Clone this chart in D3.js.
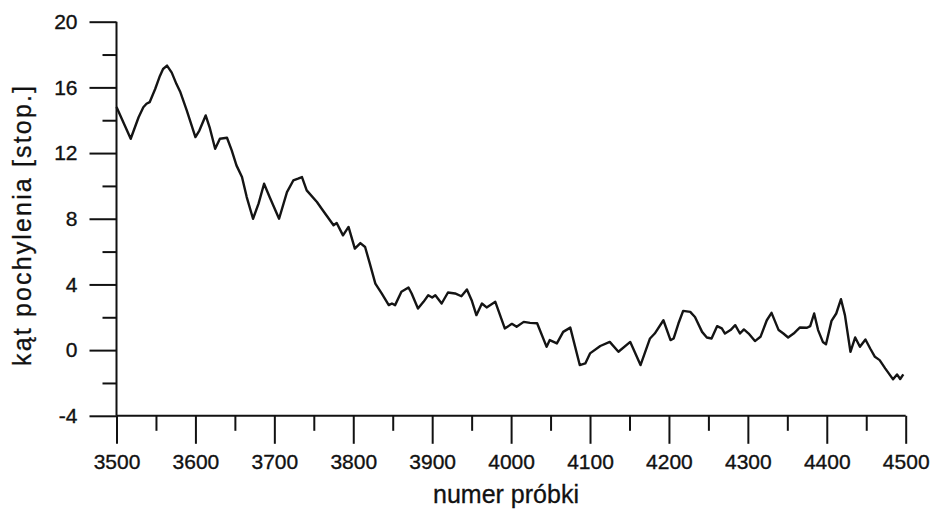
<!DOCTYPE html>
<html>
<head>
<meta charset="utf-8">
<script src="https://cdn.jsdelivr.net/npm/d3@7"></script>
<style>
  html, body { margin: 0; padding: 0; background: #fff; }
  svg { display: block; }
  text { font-family: "Liberation Sans", Arial, sans-serif; fill: #111; }
</style>
</head>
<body>
<svg id="chart" width="934" height="509"></svg>
<script>
// Sample numbers along the record
const sampleNo = [
  3500, 3518, 3528, 3534, 3538, 3542, 3549, 3555, 3559, 3564,
  3570, 3576, 3581, 3589, 3600, 3605, 3613, 3618, 3625, 3631,
  3640, 3646, 3652, 3659, 3665, 3673, 3680, 3687, 3694, 3706,
  3716, 3724, 3730, 3735, 3741, 3754, 3760, 3775, 3779, 3787,
  3794, 3802, 3809, 3815, 3821, 3828, 3836, 3845, 3849, 3853,
  3861, 3870, 3874, 3882, 3889, 3895, 3900, 3904, 3912, 3920,
  3929, 3937, 3944, 3950, 3956, 3963, 3969, 3980, 3992, 4001,
  4007, 4016, 4024, 4033, 4045, 4049, 4058, 4066, 4075, 4087,
  4094, 4100, 4113, 4125, 4136, 4151, 4164, 4176, 4182, 4193,
  4202, 4206, 4212, 4218, 4227, 4233, 4242, 4248, 4254, 4261,
  4267, 4271, 4278, 4284, 4290, 4295, 4301, 4309, 4316, 4324,
  4330, 4339, 4345, 4351, 4358, 4366, 4375, 4379, 4384, 4389,
  4395, 4399, 4406, 4412, 4418, 4423, 4430, 4436, 4442, 4449,
  4455, 4461, 4467, 4474, 4484, 4489, 4493, 4497
];
// Tilt angle in degrees at each sample
const tiltAngle = [
  14.8, 12.87, 14.18, 14.79, 15.0, 15.1, 15.9, 16.7, 17.12, 17.33,
  16.9, 16.2, 15.7, 14.6, 12.97, 13.37, 14.29, 13.57, 12.26, 12.87,
  12.93, 12.16, 11.25, 10.54, 9.32, 8.0, 8.92, 10.13, 9.32, 8.0,
  9.62, 10.33, 10.44, 10.54, 9.73, 9.02, 8.61, 7.6, 7.74, 6.99,
  7.5, 6.18, 6.52, 6.28, 5.27, 4.05, 3.45, 2.74, 2.84, 2.74,
  3.55, 3.81, 3.45, 2.53, 2.94, 3.34, 3.2, 3.34, 2.84, 3.51,
  3.45, 3.28, 3.69, 3.04, 2.13, 2.84, 2.6, 2.94, 1.32, 1.6,
  1.42, 1.72, 1.66, 1.64, 0.2, 0.61, 0.41, 1.11, 1.37, -0.91,
  -0.81, -0.2, 0.25, 0.5, -0.1, 0.5, -0.91, 0.71, 1.01, 1.82,
  0.61, 0.71, 1.62, 2.39, 2.33, 2.02, 1.11, 0.77, 0.71, 1.46,
  1.32, 1.01, 1.22, 1.52, 1.01, 1.26, 1.01, 0.55, 0.81, 1.82,
  2.27, 1.22, 1.01, 0.77, 1.01, 1.38, 1.36, 1.46, 2.23, 1.22,
  0.5, 0.36, 1.78, 2.23, 3.1, 2.13, -0.1, 0.77, 0.2, 0.65,
  0.1, -0.41, -0.61, -1.11, -1.78, -1.48, -1.76, -1.48
];

const xMajorTicks = [3500, 3600, 3700, 3800, 3900, 4000, 4100, 4200, 4300, 4400, 4500];
const xMinorTicks = [3550, 3650, 3750, 3850, 3950, 4050, 4150, 4250, 4350, 4450];
const yMajorTicks = [-4, 0, 4, 8, 12, 16, 20];
const yMinorTicks = [-2, 2, 6, 10, 14, 18];

const xTitle = "numer próbki";
const yTitle = "kąt pochylenia  [stop.]";

const svg = d3.select("#chart");

const x = d3.scaleLinear().domain([3500, 4500]).range([116.5, 905.7]);
const y = d3.scaleLinear().domain([-4, 20]).range([415.8, 21.7]);

const fontSize = 21;
const plainNumber = d => String(d);  // hyphen-minus for negatives

// Y axis: long major ticks with labels, short minor ticks
const yMajor = svg.append("g")
  .attr("transform", `translate(${x(3500)},0)`)
  .call(d3.axisLeft(y).tickValues(yMajorTicks).tickSize(27).tickPadding(12)
    .tickFormat(plainNumber));
const yMinor = svg.append("g")
  .attr("transform", `translate(${x(3500)},0)`)
  .call(d3.axisLeft(y).tickValues(yMinorTicks).tickSize(14).tickFormat(""));

// X axis
const xMajor = svg.append("g")
  .attr("transform", `translate(0,${y(-4)})`)
  .call(d3.axisBottom(x).tickValues(xMajorTicks).tickSize(28).tickPadding(10)
    .tickFormat(plainNumber));
const xMinor = svg.append("g")
  .attr("transform", `translate(0,${y(-4)})`)
  .call(d3.axisBottom(x).tickValues(xMinorTicks).tickSize(15).tickFormat(""));

[yMajor, yMinor, xMajor, xMinor].forEach(g => {
  g.selectAll("path.domain")
    .attr("stroke", "#111").attr("stroke-width", 2)
    .attr("d", (g === yMajor || g === yMinor)
      ? `M0,${y(20)}V${y(-4)}`
      : `M${x(3500)},0H${x(4500)}`);
  g.selectAll(".tick line").attr("stroke", "#111").attr("stroke-width", 2);
  g.selectAll(".tick text")
    .attr("font-size", fontSize)
    .style("font-family", "'Liberation Sans', Arial, sans-serif")
    .attr("fill", "#111")
    .attr("stroke", "#111")
    .attr("stroke-width", 0.35);
});
yMinor.select("path.domain").remove();
xMinor.select("path.domain").remove();

// Tilt angle trace
const line = d3.line()
  .x((d, i) => x(sampleNo[i]))
  .y(d => y(d));

svg.append("path")
  .datum(tiltAngle)
  .attr("fill", "none")
  .attr("stroke", "#141414")
  .attr("stroke-width", 2.4)
  .attr("stroke-linejoin", "round")
  .attr("d", line);

// Axis titles
svg.append("text")
  .attr("x", 506)
  .attr("y", 503)
  .attr("text-anchor", "middle")
  .attr("font-size", 25)
  .attr("stroke", "#111")
  .attr("stroke-width", 0.3)
  .text(xTitle);

svg.append("text")
  .attr("transform", "translate(31,226) rotate(-90)")
  .attr("text-anchor", "middle")
  .attr("font-size", 25)
  .attr("stroke", "#111")
  .attr("stroke-width", 0.3)
  .attr("textLength", 280)
  .attr("lengthAdjust", "spacing")
  .text(yTitle);
</script>
</body>
</html>
